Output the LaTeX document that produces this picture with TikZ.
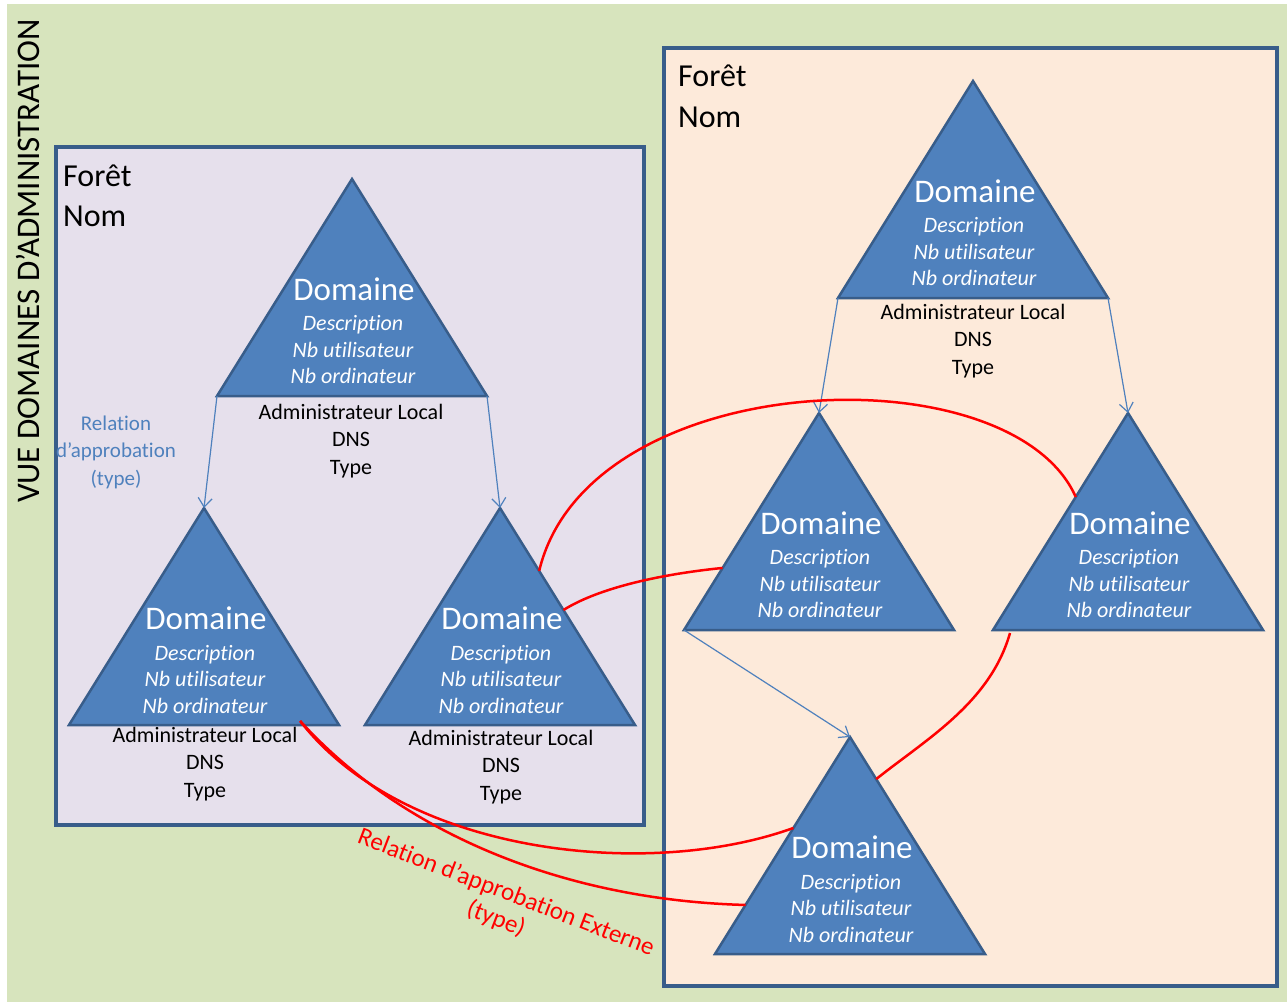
\documentclass[tikz,border=0pt]{standalone}
\usepackage{fontspec}
\setmainfont{Carlito}[Ligatures=NoCommon]
\usetikzlibrary{arrows.meta,calc}
\definecolor{bgG}{HTML}{D7E4BD}
\definecolor{boxL}{HTML}{E6E0EC}
\definecolor{boxR}{HTML}{FDEADA}
\definecolor{triF}{HTML}{4F81BD}
\definecolor{triB}{HTML}{385D8A}
\definecolor{relR}{HTML}{FF0000}
\newcommand\mydomain[3]{%
  \coordinate (#1-a) at (#2,#3);
  \coordinate (#1-l) at (#2-135,#3+217);
  \coordinate (#1-r) at (#2+135,#3+217);
  \draw[tri] (#1-a) -- (#1-l) -- (#1-r) -- cycle;
  \node[domt] (#1-t) at (#2+2,#3+110) {Domaine};
  \node[domd] (#1-d) at (#2+1,#3+171) {Description\\Nb utilisateur\\Nb ordinateur};
}
\begin{document}
\begin{tikzpicture}[x=1pt,y=-1pt,
  forest/.style={draw=triB,line width=3.5pt},
  tri/.style={fill=triF,draw=triB,line width=2.5pt,line join=miter},
  domt/.style={text=white,font=\fontsize{33}{40}\selectfont,inner sep=0pt},
  domd/.style={text=white,font=\fontsize{22}{26.5}\selectfont\itshape,align=center,inner sep=0pt},
  info/.style={font=\fontsize{22}{27.5}\selectfont,align=center,inner sep=0pt},
  ftitle/.style={font=\fontsize{32}{40}\selectfont,inner sep=0pt,anchor=base west},
  hier/.style={draw=triF,line width=1.2pt,-{Straight Barb[length=9pt,width=14pt]}},
  ext/.style={draw=relR,line width=2.5pt},
]
\useasboundingbox (0,0) rectangle (1287,1002);
\fill[white] (0,0) rectangle (1287,1002);
\fill[bgG] (7,4) rectangle (1287,1002);

\node[rotate=90,font=\fontsize{33}{40}\selectfont,inner sep=0pt] (vue) at (28,261) {VUE DOMAINES D’ADMINISTRATION};

% forests
\draw[forest,fill=boxL] (56,147) rectangle (644,825);
\draw[forest,fill=boxR] (664,48) rectangle (1277,986);
\node[ftitle] (fl1) at (63,186) {Forêt};
\node[ftitle] (fl2) at (63,226) {Nom};
\node[ftitle] (fr1) at (678,86) {Forêt};
\node[ftitle] (fr2) at (678,127) {Nom};

% domains
\mydomain{LT}{352}{179}
\mydomain{LL}{204}{508}
\mydomain{LR}{500}{508}
\mydomain{RT}{973}{81}
\mydomain{RL}{819}{413}
\mydomain{RR}{1128}{413}
\mydomain{RB}{850}{737}

\node[info] (LT-i) at (351,441) {Administrateur Local\\DNS\\Type};
\node[info] (LL-i) at (205,764) {Administrateur Local\\DNS\\Type};
\node[info] (LR-i) at (501,767) {Administrateur Local\\DNS\\Type};
\node[info] (RT-i) at (973,341) {Administrateur Local\\DNS\\Type};

\node[font=\fontsize{21}{27.5}\selectfont,text=triF,align=center,inner sep=0pt] (rel) at (116,452) {Relation\\d’approbation\\(type)};

% hierarchy arrows
\draw[hier] (LT-l) -- (LL-a);
\draw[hier] (LT-r) -- (LR-a);
\draw[hier] (RT-l) -- (RL-a);
\draw[hier] (RT-r) -- (RR-a);
\draw[hier] (RL-l) -- (RB-a);

% external trust relations
\coordinate (c1s) at ($(LR-a)!0.29!(LR-r)$);
\coordinate (c1e) at ($(RR-a)!0.387!(RR-l)$);
\coordinate (c2s) at ($(LR-a)!0.47!(LR-r)$);
\coordinate (c2e) at ($(RL-a)!0.714!(RL-l)$);
\coordinate (c3s) at ($(RR-l)!0.063!(RR-r)+(0,3)$);
\coordinate (c3e) at ($(RB-a)!0.194!(RB-r)$);
\coordinate (c4s) at ($(LL-l)!0.856!(LL-r)+(0,-4)$);
\coordinate (c4a) at ($(RB-a)!0.419!(RB-l)$);
\coordinate (c4b) at ($(RB-a)!0.774!(RB-l)$);

\draw[ext] (c1s) .. controls +(49,-205) and +(-65,-147) .. (c1e);
\draw[ext] (c2s) .. controls +(40,-25) and +(-50,5) .. (c2e);
\draw[ext] (c3s) .. controls +(-20,70) and +(50,-40) .. (c3e);
\draw[ext] (c4s) .. controls +(105,135) and +(-143,52) .. (c4a);
\draw[ext] (c4s) .. controls +(100,110) and +(-185,-5) .. (c4b);

\node[rotate=-21,text=relR,font=\fontsize{25}{28}\selectfont,align=center,inner sep=0pt] (extl) at (501,906) {Relation d’approbation Externe\\(type)};
\end{tikzpicture}
\end{document}
